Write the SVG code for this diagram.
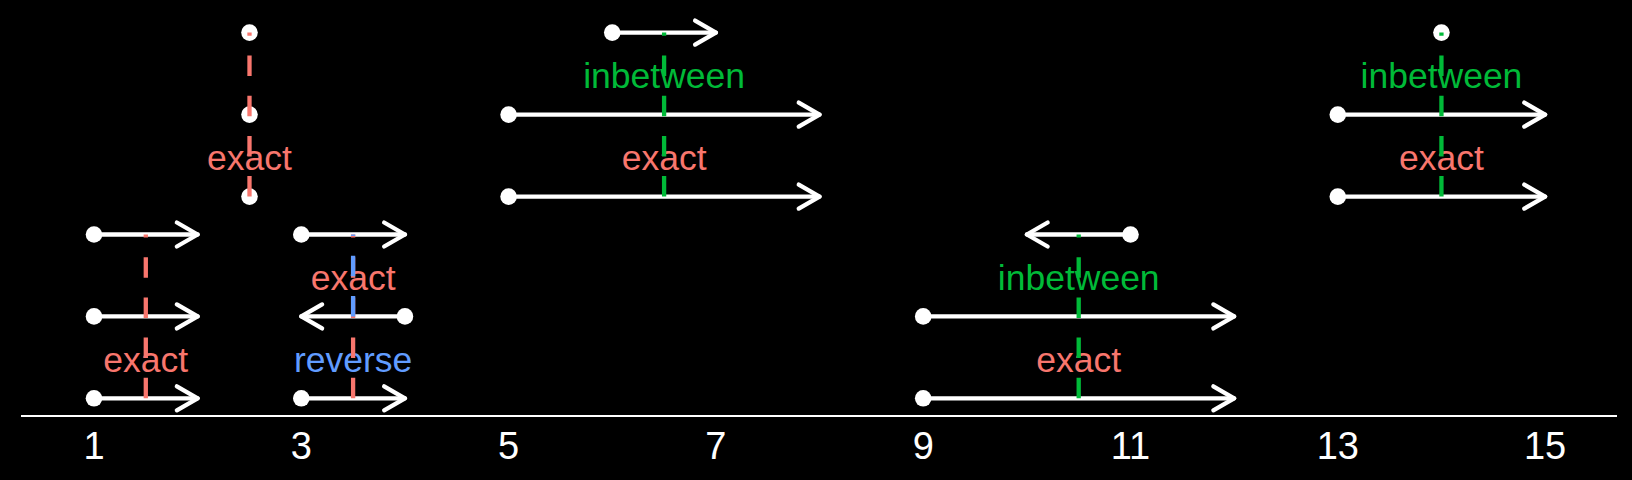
<svg xmlns="http://www.w3.org/2000/svg" width="1632" height="480" viewBox="0 0 1632 480">
<style>
.seg{stroke:#FFFFFF;stroke-width:4.3;stroke-linecap:round;fill:none}
.pt{fill:#FFFFFF}
.lbl{font-family:"Liberation Sans",Arial,sans-serif;font-size:35.5px;text-anchor:middle}
.tick{font-family:"Liberation Sans",Arial,sans-serif;font-size:38px;text-anchor:middle;fill:#FFFFFF}
.exact{fill:#F8766D}
.inb{fill:#00BA38}
.rev{fill:#619CFF}
.dash{stroke-width:4.3;stroke-dasharray:20.5 19.7;fill:none;stroke-linecap:butt}
.dr{stroke:#F8766D}
.dg{stroke:#00BA38}
.db{stroke:#619CFF}
</style>
<defs>
<marker id="ah" markerUnits="userSpaceOnUse" orient="auto" viewBox="-28 -18 34 36" refX="0" refY="0" markerWidth="34" markerHeight="36" overflow="visible">
<path d="M-20.8,-12 L0,0 L-20.8,12" fill="none" stroke="#FFFFFF" stroke-width="4.3" stroke-linecap="round" stroke-linejoin="round"/>
</marker>
</defs>
<rect x="0" y="0" width="1632" height="480" fill="#000000"/>
<g id="axis">
<line x1="21" y1="416" x2="1617" y2="416" stroke="#FFFFFF" stroke-width="2"/>
<text class="tick" x="94" y="459">1</text>
<text class="tick" x="301.3" y="459">3</text>
<text class="tick" x="508.6" y="459">5</text>
<text class="tick" x="715.9" y="459">7</text>
<text class="tick" x="923.2" y="459">9</text>
<text class="tick" x="1130.5" y="459">11</text>
<text class="tick" x="1337.8" y="459">13</text>
<text class="tick" x="1545.1" y="459">15</text>
</g>
<g id="group1">
<line class="seg" x1="94" y1="398.3" x2="197.65" y2="398.3" marker-end="url(#ah)"/>
<circle class="pt" cx="94" cy="398.3" r="8.3"/>
<line class="seg" x1="94" y1="316.4" x2="197.65" y2="316.4" marker-end="url(#ah)"/>
<circle class="pt" cx="94" cy="316.4" r="8.3"/>
<line class="seg" x1="94" y1="234.5" x2="197.65" y2="234.5" marker-end="url(#ah)"/>
<circle class="pt" cx="94" cy="234.5" r="8.3"/>
<text class="lbl exact" x="145.8" y="371.7">exact</text>
</g>
<g id="group2">
<circle class="pt" cx="249.5" cy="196.6" r="8.3"/>
<circle class="pt" cx="249.5" cy="114.6" r="8.3"/>
<circle class="pt" cx="249.5" cy="32.6" r="8.3"/>
<text class="lbl exact" x="249.5" y="169.9">exact</text>
</g>
<g id="group3">
<line class="seg" x1="301.3" y1="398.3" x2="404.95" y2="398.3" marker-end="url(#ah)"/>
<circle class="pt" cx="301.3" cy="398.3" r="8.3"/>
<line class="seg" x1="404.95" y1="316.4" x2="301.3" y2="316.4" marker-end="url(#ah)"/>
<circle class="pt" cx="404.95" cy="316.4" r="8.3"/>
<line class="seg" x1="301.3" y1="234.5" x2="404.95" y2="234.5" marker-end="url(#ah)"/>
<circle class="pt" cx="301.3" cy="234.5" r="8.3"/>
<text class="lbl exact" x="353.1" y="289.8">exact</text>
<text class="lbl rev" x="353.1" y="371.7">reverse</text>
</g>
<g id="group4">
<line class="seg" x1="508.6" y1="196.6" x2="819.55" y2="196.6" marker-end="url(#ah)"/>
<circle class="pt" cx="508.6" cy="196.6" r="8.3"/>
<line class="seg" x1="508.6" y1="114.6" x2="819.55" y2="114.6" marker-end="url(#ah)"/>
<circle class="pt" cx="508.6" cy="114.6" r="8.3"/>
<line class="seg" x1="612.25" y1="32.6" x2="715.9" y2="32.6" marker-end="url(#ah)"/>
<circle class="pt" cx="612.25" cy="32.6" r="8.3"/>
<text class="lbl exact" x="664.1" y="169.9">exact</text>
<text class="lbl inb" x="664.1" y="87.9">inbetween</text>
</g>
<g id="group5">
<line class="seg" x1="923.2" y1="398.3" x2="1234.15" y2="398.3" marker-end="url(#ah)"/>
<circle class="pt" cx="923.2" cy="398.3" r="8.3"/>
<line class="seg" x1="923.2" y1="316.4" x2="1234.15" y2="316.4" marker-end="url(#ah)"/>
<circle class="pt" cx="923.2" cy="316.4" r="8.3"/>
<line class="seg" x1="1130.5" y1="234.5" x2="1026.85" y2="234.5" marker-end="url(#ah)"/>
<circle class="pt" cx="1130.5" cy="234.5" r="8.3"/>
<text class="lbl exact" x="1078.7" y="371.7">exact</text>
<text class="lbl inb" x="1078.7" y="289.8">inbetween</text>
</g>
<g id="group6">
<line class="seg" x1="1337.8" y1="196.6" x2="1545.1" y2="196.6" marker-end="url(#ah)"/>
<circle class="pt" cx="1337.8" cy="196.6" r="8.3"/>
<line class="seg" x1="1337.8" y1="114.6" x2="1545.1" y2="114.6" marker-end="url(#ah)"/>
<circle class="pt" cx="1337.8" cy="114.6" r="8.3"/>
<circle class="pt" cx="1441.45" cy="32.6" r="8.3"/>
<text class="lbl exact" x="1441.45" y="169.9">exact</text>
<text class="lbl inb" x="1441.45" y="87.9">inbetween</text>
</g>
<g id="connectors">
<path class="dash dr" d="M145.8,398.3 V234.5"/>
<path class="dash dr" d="M249.5,196.6 V32.6"/>
<path class="dash dr" d="M353.1,398.3 V234.5"/>
<path class="dash db" d="M353.1,316.4 V234.5"/>
<path class="dash dg" d="M664.1,196.6 V32.6"/>
<path class="dash dg" d="M1078.7,398.3 V234.5"/>
<path class="dash dg" d="M1441.45,196.6 V32.6"/>
</g>
</svg>
